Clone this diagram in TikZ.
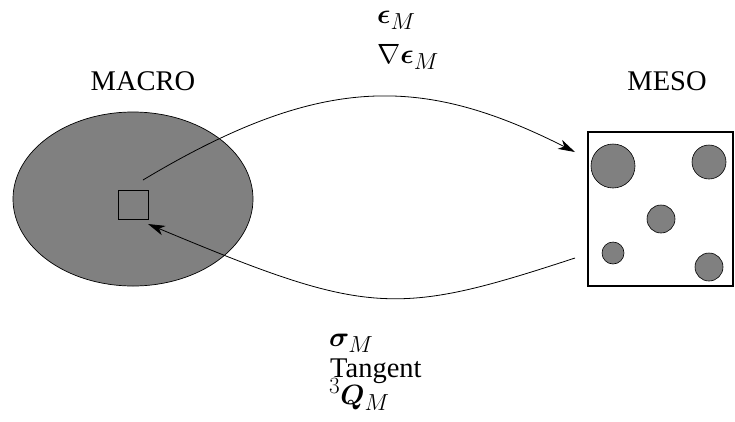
\documentclass[tikz,border=0pt]{standalone}
\usepackage{graphicx}
\usepackage{amsmath,bm}
\usepackage{fontspec}
\setmainfont{Liberation Serif}
\usetikzlibrary{arrows.meta,shapes.geometric}
\newcommand{\bigmath}[1]{\scalebox{1.12}{$#1$}}
\tikzset{
  lbl/.style={font=\fontsize{28.5}{34}\selectfont, inner sep=0pt},
  mlbl/.style={font=\fontsize{24.88}{30}\selectfont, inner sep=0pt},
  conn/.style={line width=0.8pt, -{Stealth[length=17pt,width=10pt,inset=5pt]}},
  grain/.style={circle, draw=black, fill=black!50, line width=0.6pt, inner sep=0pt},
}
\begin{document}
\begin{tikzpicture}[x=1pt,y=-1pt]
\useasboundingbox (0,0) rectangle (735,421);
% macro domain
\node[ellipse, draw=black, fill=black!50, line width=0.7pt, minimum width=240pt, minimum height=174pt, inner sep=0pt] (macro) at (133,199) {};
\node[draw=black, line width=0.8pt, minimum width=30pt, minimum height=29pt, inner sep=0pt] (pt) at (133,204.5) {};
% meso box
\node[draw=black, line width=1.2pt, minimum width=145pt, minimum height=154pt, inner sep=0pt] (meso) at (660.5,209) {};
\node[grain, minimum size=44pt] (g1) at (613,166) {};
\node[grain, minimum size=34pt] (g2) at (709,162) {};
\node[grain, minimum size=28pt] (g3) at (661,219) {};
\node[grain, minimum size=22pt] (g4) at (613,253) {};
\node[grain, minimum size=28pt] (g5) at (709,267) {};
% titles
\node[lbl, anchor=base] (tmacro) at (143,90) {MACRO};
\node[lbl, anchor=base] (tmeso) at (667,90) {MESO};
% connectors
\coordinate (s1) at (143,180);
\coordinate (e1) at (575,152);
\coordinate (s2) at (575,258);
\coordinate (e2) at (148,224);
\draw[conn] (s1) .. controls (323,72) and (424,76) .. (e1);
\draw[conn] (s2) .. controls (395,317) and (368,316) .. (e2);
% labels
\node[mlbl, anchor=base west] (l1) at (377,23) {\bigmath{\bm{\epsilon}_M}};
\node[mlbl, anchor=base west] (l2) at (377,63) {\bigmath{\nabla\bm{\epsilon}_M}};
\node[mlbl, anchor=base west] (l3) at (329,346) {\bigmath{\bm{\sigma}_M}};
\node[lbl, anchor=base west] (l4) at (330,377) {Tangent};
\node[mlbl, anchor=base west] (l5) at (329,404) {\bigmath{^3\bm{Q}_M}};
\end{tikzpicture}
\end{document}
